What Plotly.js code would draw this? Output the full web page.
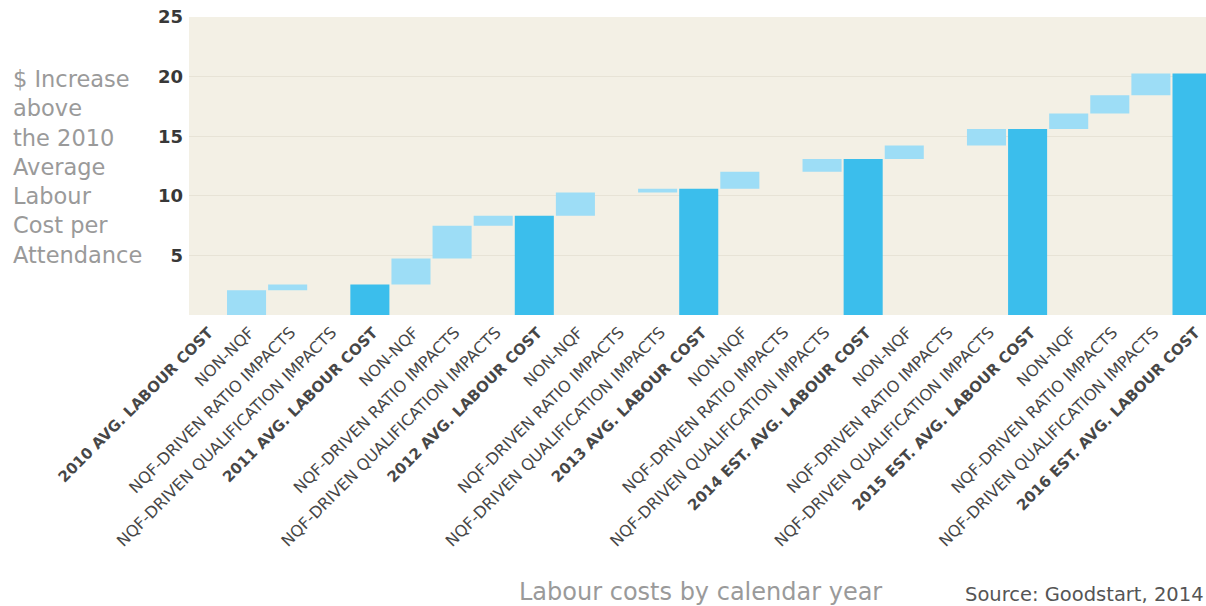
<!DOCTYPE html>
<html>
<head>
<meta charset="utf-8">
<script src="https://cdn.plot.ly/plotly-3.0.1.min.js"></script>
<style>html,body{margin:0;padding:0;background:#fff;}#chart{width:1206px;height:606px;}</style>
</head>
<body>
<div id="chart"></div>
<script>
// Categories (unique keys) and their displayed tick labels
const categories = [
  "2010 total", "2010 non", "2010 ratio", "2010 qual",
  "2011 total", "2011 non", "2011 ratio", "2011 qual",
  "2012 total", "2012 non", "2012 ratio", "2012 qual",
  "2013 total", "2013 non", "2013 ratio", "2013 qual",
  "2014 total", "2014 non", "2014 ratio", "2014 qual",
  "2015 total", "2015 non", "2015 ratio", "2015 qual",
  "2016 total"
];
const tickLabels = [
  "2010 AVG. LABOUR COST", "NON-NQF", "NQF-DRIVEN RATIO IMPACTS", "NQF-DRIVEN QUALIFICATION IMPACTS",
  "2011 AVG. LABOUR COST", "NON-NQF", "NQF-DRIVEN RATIO IMPACTS", "NQF-DRIVEN QUALIFICATION IMPACTS",
  "2012 AVG. LABOUR COST", "NON-NQF", "NQF-DRIVEN RATIO IMPACTS", "NQF-DRIVEN QUALIFICATION IMPACTS",
  "2013 AVG. LABOUR COST", "NON-NQF", "NQF-DRIVEN RATIO IMPACTS", "NQF-DRIVEN QUALIFICATION IMPACTS",
  "2014 EST. AVG. LABOUR COST", "NON-NQF", "NQF-DRIVEN RATIO IMPACTS", "NQF-DRIVEN QUALIFICATION IMPACTS",
  "2015 EST. AVG. LABOUR COST", "NON-NQF", "NQF-DRIVEN RATIO IMPACTS", "NQF-DRIVEN QUALIFICATION IMPACTS",
  "2016 EST. AVG. LABOUR COST"
];
// measure: total bars are running sums, relative bars are increments
const measures = [
  "total", "relative", "relative", "relative",
  "total", "relative", "relative", "relative",
  "total", "relative", "relative", "relative",
  "total", "relative", "relative", "relative",
  "total", "relative", "relative", "relative",
  "total", "relative", "relative", "relative",
  "total"
];
// increments ($ above 2010 average labour cost per attendance)
const increments = [
  0, 2.07, 0.48, 0,
  0, 2.19, 2.75, 0.84,
  0, 1.94, 0, 0.33,
  0, 1.41, 0, 1.07,
  0, 1.15, 0, 1.38,
  0, 1.29, 1.54, 1.83,
  0
];
const yTicks = [5, 10, 15, 20, 25];

// total labels drawn bold and slightly smaller, increment labels regular
const tickText = tickLabels.map((t, i) =>
  measures[i] === "total" ? '<b><span style="font-size:15px">' + t + '</span></b>' : t);

const trace = {
  type: "waterfall",
  x: categories,
  y: increments,
  measure: measures,
  increasing: {marker: {color: "#9DDDF6", line: {width: 0}}},
  decreasing: {marker: {color: "#9DDDF6", line: {width: 0}}},
  totals: {marker: {color: "#3BBEEC", line: {width: 0}}},
  connector: {visible: false},
  textinfo: "none",
  hoverinfo: "x+y"
};

const layout = {
  width: 1206, height: 606,
  margin: {l: 189, r: 0, t: 17, b: 291, pad: 0},
  paper_bgcolor: "#ffffff",
  plot_bgcolor: "#F3F0E5",
  showlegend: false,
  waterfallgap: 0.05,
  font: {family: "DejaVu Sans, sans-serif"},
  xaxis: {
    type: "category",
    categoryorder: "array",
    categoryarray: categories,
    tickvals: categories,
    ticktext: tickText,
    tickangle: -45,
    tickfont: {size: 16, color: "#474747", family: "DejaVu Sans, sans-serif"},
    ticklabelshift: 3,
    ticklabelstandoff: 4,
    range: [-0.4, 24.34],
    showgrid: false, zeroline: false, showline: false, ticks: ""
  },
  yaxis: {
    range: [0, 25],
    tickvals: yTicks,
    ticktext: yTicks.map(v => "<b>" + v + "</b>"),
    tickfont: {size: 18, color: "#383838", family: "DejaVu Sans, sans-serif"},
    showgrid: true, gridcolor: "#E7E3D6", gridwidth: 1,
    zeroline: false, showline: false, ticks: "", ticklabelstandoff: 5
  },
  annotations: [
    {
      xref: "paper", yref: "paper", x: -(189-11)/1017, y: 1 - (64-17)/298,
      xanchor: "left", yanchor: "top", align: "left", showarrow: false,
      text: "$ Increase<br>above<br>the 2010<br>Average<br>Labour<br>Cost per<br>Attendance",
      font: {size: 22.5, color: "#9a9a9a", family: "DejaVu Sans, sans-serif"}
    },
    {
      xref: "paper", yref: "paper", x: (700-189)/1017, y: -(592-315)/298,
      xanchor: "center", yanchor: "middle", showarrow: false,
      text: "Labour costs by calendar year",
      font: {size: 24, color: "#9a9a9a", family: "DejaVu Sans, sans-serif"}
    },
    {
      xref: "paper", yref: "paper", x: 1, y: -(594-315)/298,
      xanchor: "right", yanchor: "middle", showarrow: false,
      text: "Source: Goodstart, 2014",
      font: {size: 19.5, color: "#555555", family: "DejaVu Sans, sans-serif"}
    }
  ]
};

Plotly.newPlot("chart", [trace], layout, {displayModeBar: false, staticPlot: true});
</script>
</body>
</html>
